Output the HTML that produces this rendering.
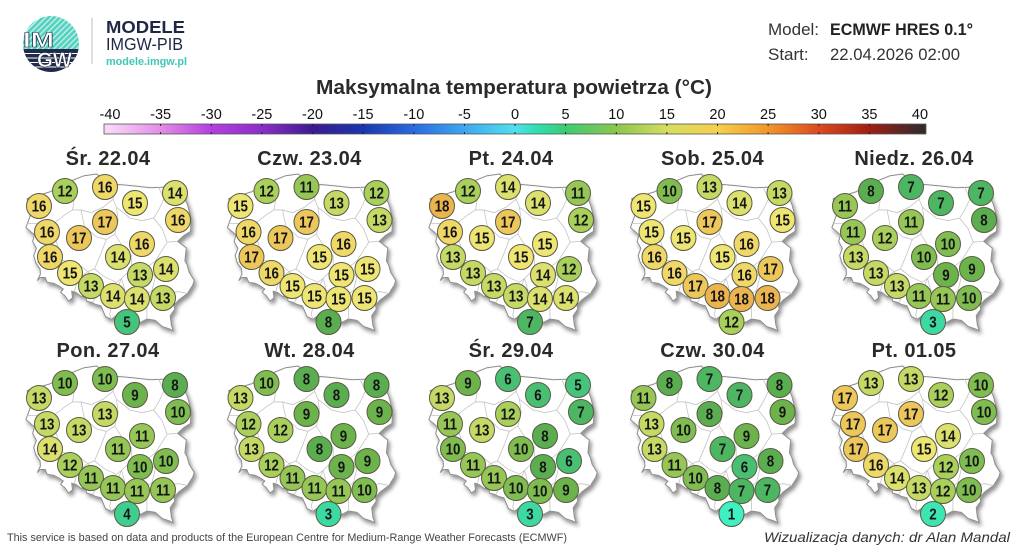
<!DOCTYPE html>
<html><head><meta charset="utf-8">
<style>
html,body{margin:0;padding:0;background:#fff}
body{width:1024px;height:549px;overflow:hidden}
svg{display:block}
svg text{font-family:"Liberation Sans",sans-serif}
.m text{font-weight:bold;font-size:15.5px;text-anchor:middle;fill:#161616;transform-box:fill-box;transform-origin:center;transform:scaleX(.86)}
.m circle{stroke:#5a5a44;stroke-width:1}
.m text.t{font-size:20px;fill:#2a2a2a;transform:none;letter-spacing:.4px}
.k1{fill:#3ff0c2}.k2{fill:#3ce6b2}.k3{fill:#3cdaa2}.k4{fill:#40ce90}.k5{fill:#44c47c}.k6{fill:#48bf72}.k7{fill:#4db662}.k8{fill:#5aae50}.k9{fill:#6cb34c}.k10{fill:#7fbd50}.k11{fill:#96c656}.k12{fill:#aad05c}.k13{fill:#c5da65}.k14{fill:#dce06c}.k15{fill:#eee572}.k16{fill:#efd868}.k17{fill:#eec75a}.k18{fill:#ecb44e}
.tk{font-size:14.5px;text-anchor:middle;fill:#111}
</style></head><body>
<svg width="1024" height="549" viewBox="0 0 1024 549" xmlns="http://www.w3.org/2000/svg">
<defs>
<linearGradient id="cb" gradientUnits="userSpaceOnUse" x1="110" y1="0" x2="920" y2="0">
<stop offset="0" stop-color="#f7d6f7"/><stop offset="0.0625" stop-color="#e38de6"/><stop offset="0.125" stop-color="#b43ee0"/><stop offset="0.1875" stop-color="#8a2fc8"/><stop offset="0.25" stop-color="#3c1b8e"/><stop offset="0.3125" stop-color="#1a36ae"/><stop offset="0.375" stop-color="#2a6ae0"/><stop offset="0.4375" stop-color="#3fa8ef"/><stop offset="0.5" stop-color="#4fe0ee"/><stop offset="0.525" stop-color="#2fe0b2"/><stop offset="0.5625" stop-color="#3ccb74"/><stop offset="0.625" stop-color="#8cc64e"/><stop offset="0.6875" stop-color="#d6de5e"/><stop offset="0.75" stop-color="#f6cf4e"/><stop offset="0.8125" stop-color="#f29628"/><stop offset="0.875" stop-color="#dc4a1e"/><stop offset="0.9375" stop-color="#a01f12"/><stop offset="1" stop-color="#352a2a"/>
</linearGradient>
<pattern id="dg" width="4" height="4" patternUnits="userSpaceOnUse" patternTransform="rotate(45)"><rect width="4" height="4" fill="#55d1c0"/><rect width="1.3" height="4" fill="#c9f1ea"/></pattern>
<clipPath id="lc"><circle cx="51" cy="44" r="28"/></clipPath>
<filter id="sh" x="-15%" y="-15%" width="135%" height="135%">
<feGaussianBlur in="SourceAlpha" stdDeviation="2.2"/><feOffset dx="2" dy="3"/><feComponentTransfer><feFuncA type="linear" slope="0.45"/></feComponentTransfer><feMerge><feMergeNode/><feMergeNode in="SourceGraphic"/></feMerge>
</filter>
<g id="pl"><g transform="matrix(16.9 0 0 -26.8 -213.07 1643.76)">
<polygon fill="#fff" stroke="#8c8c8c" stroke-width="1" vector-effect="non-scaling-stroke" stroke-linejoin="round" points="14.22,53.93 14.77,54.02 15.58,54.18 16.40,54.45 16.85,54.59 17.55,54.77 18.33,54.84 18.40,54.80 18.80,54.61 18.78,54.59 18.46,54.74 18.47,54.70 18.55,54.52 18.65,54.40 18.95,54.35 19.30,54.38 19.63,54.45 20.50,54.40 21.50,54.33 22.79,54.36 23.10,54.30 23.48,54.15 23.52,53.95 23.70,53.70 23.92,53.17 23.88,52.70 23.50,52.55 23.12,52.33 23.63,52.08 23.55,51.60 23.68,51.45 23.80,51.17 24.10,50.87 24.02,50.70 23.70,50.38 23.20,50.15 22.90,49.95 22.95,49.80 22.68,49.55 22.75,49.20 22.86,49.00 22.56,49.08 22.20,49.15 21.80,49.38 21.30,49.43 20.90,49.30 20.60,49.38 20.35,49.40 20.08,49.18 19.88,49.20 19.78,49.37 19.53,49.57 19.20,49.42 18.85,49.52 18.58,49.92 18.25,49.98 18.03,50.05 17.72,50.10 17.70,50.32 17.42,50.27 17.10,50.42 16.85,50.47 16.90,50.22 16.66,50.10 16.45,50.30 16.20,50.42 16.35,50.55 16.10,50.66 15.80,50.76 15.40,50.80 15.28,50.98 15.00,50.98 14.82,50.87 15.00,51.10 14.98,51.30 14.73,51.52 14.60,51.80 14.76,52.07 14.54,52.32 14.65,52.57 14.14,52.84 14.42,53.32 14.28,53.70"/>
<path fill="none" stroke="#c4c4c4" stroke-width="0.8" vector-effect="non-scaling-stroke" d="M16.70,54.55L17.00,53.90L16.90,53.50M14.23,53.00L15.00,53.00L15.90,53.05L16.40,53.30L16.90,53.50L17.40,53.50L18.00,53.40L18.70,53.60L19.30,53.90L19.45,54.40M22.00,54.35L22.30,53.90L22.00,53.50L21.70,53.20M19.30,53.90L19.50,53.60L20.30,53.20L21.00,53.10L21.70,53.20M17.40,53.50L17.60,52.90L18.30,52.50L18.90,52.40L19.40,52.60L19.60,53.10L19.50,53.60M15.90,53.05L15.80,52.60L16.00,52.20L16.20,51.80L16.10,51.65M14.75,51.55L15.40,51.50L15.90,51.60L16.10,51.65L16.80,51.55L17.30,51.45L17.80,51.20M18.90,52.40L18.60,51.90L18.20,51.30L17.80,51.20M17.80,51.20L17.20,50.90L17.00,50.45M17.80,51.20L18.30,50.90L18.40,50.40L18.10,50.05M18.20,51.30L18.80,51.00L19.50,50.80L19.80,50.95M19.40,52.60L19.90,52.10L20.40,51.80L20.40,51.30L19.80,50.95M19.80,50.95L19.50,50.50L19.30,50.10L19.10,49.60L19.20,49.42M19.80,50.95L20.00,50.50L20.80,50.30L21.20,50.30L21.60,50.50L21.80,51.00L21.30,51.35L20.40,51.30M21.30,51.35L21.80,51.60L22.20,52.00L22.50,52.30L23.12,52.33M21.70,53.20L22.20,52.80L22.50,52.30M21.60,50.50L22.20,50.60L22.60,50.40L23.20,50.45L23.70,50.38M21.20,50.30L21.30,49.90L21.30,49.43"/>
</g></g>
</defs>

<!-- Logo -->
<g clip-path="url(#lc)">
<rect x="20" y="14" width="62" height="35" fill="url(#dg)"/>
<rect x="20" y="49" width="62" height="26" fill="#1f2b48"/>
<path d="M20 53.5H82M20 58H82M20 62.5H82M20 67H82" stroke="#fff" stroke-width="1.1"/>
</g>
<text x="23" y="47" font-weight="bold" font-size="21" fill="#fff" stroke="#1f2b48" stroke-width="0.6" textLength="31" lengthAdjust="spacingAndGlyphs">IM</text>
<text x="37" y="67" font-weight="bold" font-size="21" fill="#fff" stroke="#1f2b48" stroke-width="0.6" textLength="35" lengthAdjust="spacingAndGlyphs">GW</text>
<line x1="92" y1="18" x2="92" y2="64" stroke="#bdbdbd" stroke-width="1"/>
<text x="106" y="33" font-weight="bold" font-size="17.5" fill="#1d2845" textLength="79" lengthAdjust="spacingAndGlyphs">MODELE</text>
<text x="106" y="50" font-size="17.5" fill="#1d2845" textLength="77" lengthAdjust="spacingAndGlyphs">IMGW-PIB</text>
<text x="106" y="65" font-weight="bold" font-size="11" fill="#3fc7b5" textLength="81" lengthAdjust="spacingAndGlyphs">modele.imgw.pl</text>

<!-- Model info -->
<text x="768" y="35" font-size="17" fill="#333">Model:</text>
<text x="830" y="35" font-size="16.5" font-weight="bold" fill="#222" textLength="143" lengthAdjust="spacingAndGlyphs">ECMWF HRES 0.1°</text>
<text x="768" y="60" font-size="17" fill="#333">Start:</text>
<text x="830" y="60" font-size="17" fill="#333" textLength="130" lengthAdjust="spacingAndGlyphs">22.04.2026 02:00</text>

<!-- Title & colorbar -->
<text x="316" y="94" font-size="20" font-weight="bold" fill="#2b2b2b" textLength="396" lengthAdjust="spacingAndGlyphs">Maksymalna temperatura powietrza (°C)</text>
<g class="tk">
<text x="110" y="119">-40</text><text x="160.6" y="119">-35</text><text x="211.3" y="119">-30</text><text x="261.9" y="119">-25</text><text x="312.5" y="119">-20</text><text x="363.1" y="119">-15</text><text x="413.8" y="119">-10</text><text x="464.4" y="119">-5</text><text x="515" y="119">0</text><text x="565.6" y="119">5</text><text x="616.3" y="119">10</text><text x="666.9" y="119">15</text><text x="717.5" y="119">20</text><text x="768.1" y="119">25</text><text x="818.8" y="119">30</text><text x="869.4" y="119">35</text><text x="920" y="119">40</text>
</g>
<rect x="104" y="124" width="822" height="10" fill="url(#cb)" stroke="#555" stroke-width="0.8"/>
<path stroke="#222" stroke-width="1" d="M160.6 124v2M211.3 124v2M261.9 124v2M312.5 124v2M363.1 124v2M413.8 124v2M464.4 124v2M515 124v2M565.6 124v2M616.3 124v2M666.9 124v2M717.5 124v2M768.1 124v2M818.8 124v2M869.4 124v2M160.6 132v2M211.3 132v2M261.9 132v2M312.5 132v2M363.1 132v2M413.8 132v2M464.4 132v2M515 132v2M565.6 132v2M616.3 132v2M666.9 132v2M717.5 132v2M768.1 132v2M818.8 132v2M869.4 132v2"/>

<!-- Map 1 -->
<g class="m" transform="translate(0,0)">
<text class="t" x="108" y="165">Śr. 22.04</text>
<use href="#pl" filter="url(#sh)"/>
<g transform="translate(65,191)"><circle class="k12" r="12.5"/><text y="5.5">12</text></g>
<g transform="translate(105,187)"><circle class="k16" r="12.5"/><text y="5.5">16</text></g>
<g transform="translate(175,193)"><circle class="k14" r="12.5"/><text y="5.5">14</text></g>
<g transform="translate(39,206)"><circle class="k16" r="12.5"/><text y="5.5">16</text></g>
<g transform="translate(135,203)"><circle class="k15" r="12.5"/><text y="5.5">15</text></g>
<g transform="translate(178,220)"><circle class="k16" r="12.5"/><text y="5.5">16</text></g>
<g transform="translate(105,222)"><circle class="k17" r="12.5"/><text y="5.5">17</text></g>
<g transform="translate(47,232)"><circle class="k16" r="12.5"/><text y="5.5">16</text></g>
<g transform="translate(79,238)"><circle class="k17" r="12.5"/><text y="5.5">17</text></g>
<g transform="translate(142,244)"><circle class="k16" r="12.5"/><text y="5.5">16</text></g>
<g transform="translate(50,257)"><circle class="k16" r="12.5"/><text y="5.5">16</text></g>
<g transform="translate(118,257)"><circle class="k14" r="12.5"/><text y="5.5">14</text></g>
<g transform="translate(70,273)"><circle class="k15" r="12.5"/><text y="5.5">15</text></g>
<g transform="translate(140,275)"><circle class="k13" r="12.5"/><text y="5.5">13</text></g>
<g transform="translate(166,269)"><circle class="k14" r="12.5"/><text y="5.5">14</text></g>
<g transform="translate(91,286)"><circle class="k13" r="12.5"/><text y="5.5">13</text></g>
<g transform="translate(113,296)"><circle class="k14" r="12.5"/><text y="5.5">14</text></g>
<g transform="translate(137,299)"><circle class="k14" r="12.5"/><text y="5.5">14</text></g>
<g transform="translate(163,298)"><circle class="k13" r="12.5"/><text y="5.5">13</text></g>
<g transform="translate(127,322)"><circle class="k5" r="12.5"/><text y="5.5">5</text></g>
</g>

<!-- Map 2 -->
<g class="m" transform="translate(201.5,0)">
<text class="t" x="108" y="165">Czw. 23.04</text>
<use href="#pl" filter="url(#sh)"/>
<g transform="translate(65,191)"><circle class="k12" r="12.5"/><text y="5.5">12</text></g>
<g transform="translate(105,187)"><circle class="k11" r="12.5"/><text y="5.5">11</text></g>
<g transform="translate(175,193)"><circle class="k12" r="12.5"/><text y="5.5">12</text></g>
<g transform="translate(39,206)"><circle class="k15" r="12.5"/><text y="5.5">15</text></g>
<g transform="translate(135,203)"><circle class="k13" r="12.5"/><text y="5.5">13</text></g>
<g transform="translate(178,220)"><circle class="k13" r="12.5"/><text y="5.5">13</text></g>
<g transform="translate(105,222)"><circle class="k17" r="12.5"/><text y="5.5">17</text></g>
<g transform="translate(47,232)"><circle class="k16" r="12.5"/><text y="5.5">16</text></g>
<g transform="translate(79,238)"><circle class="k17" r="12.5"/><text y="5.5">17</text></g>
<g transform="translate(142,244)"><circle class="k16" r="12.5"/><text y="5.5">16</text></g>
<g transform="translate(50,257)"><circle class="k17" r="12.5"/><text y="5.5">17</text></g>
<g transform="translate(118,257)"><circle class="k15" r="12.5"/><text y="5.5">15</text></g>
<g transform="translate(70,273)"><circle class="k16" r="12.5"/><text y="5.5">16</text></g>
<g transform="translate(140,275)"><circle class="k15" r="12.5"/><text y="5.5">15</text></g>
<g transform="translate(166,269)"><circle class="k15" r="12.5"/><text y="5.5">15</text></g>
<g transform="translate(91,286)"><circle class="k15" r="12.5"/><text y="5.5">15</text></g>
<g transform="translate(113,296)"><circle class="k15" r="12.5"/><text y="5.5">15</text></g>
<g transform="translate(137,299)"><circle class="k15" r="12.5"/><text y="5.5">15</text></g>
<g transform="translate(163,298)"><circle class="k15" r="12.5"/><text y="5.5">15</text></g>
<g transform="translate(127,322)"><circle class="k8" r="12.5"/><text y="5.5">8</text></g>
</g>

<!-- Map 3 -->
<g class="m" transform="translate(403,0)">
<text class="t" x="108" y="165">Pt. 24.04</text>
<use href="#pl" filter="url(#sh)"/>
<g transform="translate(65,191)"><circle class="k12" r="12.5"/><text y="5.5">12</text></g>
<g transform="translate(105,187)"><circle class="k14" r="12.5"/><text y="5.5">14</text></g>
<g transform="translate(175,193)"><circle class="k11" r="12.5"/><text y="5.5">11</text></g>
<g transform="translate(39,206)"><circle class="k18" r="12.5"/><text y="5.5">18</text></g>
<g transform="translate(135,203)"><circle class="k14" r="12.5"/><text y="5.5">14</text></g>
<g transform="translate(178,220)"><circle class="k12" r="12.5"/><text y="5.5">12</text></g>
<g transform="translate(105,222)"><circle class="k17" r="12.5"/><text y="5.5">17</text></g>
<g transform="translate(47,232)"><circle class="k16" r="12.5"/><text y="5.5">16</text></g>
<g transform="translate(79,238)"><circle class="k15" r="12.5"/><text y="5.5">15</text></g>
<g transform="translate(142,244)"><circle class="k15" r="12.5"/><text y="5.5">15</text></g>
<g transform="translate(50,257)"><circle class="k13" r="12.5"/><text y="5.5">13</text></g>
<g transform="translate(118,257)"><circle class="k15" r="12.5"/><text y="5.5">15</text></g>
<g transform="translate(70,273)"><circle class="k13" r="12.5"/><text y="5.5">13</text></g>
<g transform="translate(140,275)"><circle class="k14" r="12.5"/><text y="5.5">14</text></g>
<g transform="translate(166,269)"><circle class="k12" r="12.5"/><text y="5.5">12</text></g>
<g transform="translate(91,286)"><circle class="k13" r="12.5"/><text y="5.5">13</text></g>
<g transform="translate(113,296)"><circle class="k13" r="12.5"/><text y="5.5">13</text></g>
<g transform="translate(137,299)"><circle class="k14" r="12.5"/><text y="5.5">14</text></g>
<g transform="translate(163,298)"><circle class="k14" r="12.5"/><text y="5.5">14</text></g>
<g transform="translate(127,322)"><circle class="k7" r="12.5"/><text y="5.5">7</text></g>
</g>

<!-- Map 4 -->
<g class="m" transform="translate(604.5,0)">
<text class="t" x="108" y="165">Sob. 25.04</text>
<use href="#pl" filter="url(#sh)"/>
<g transform="translate(65,191)"><circle class="k10" r="12.5"/><text y="5.5">10</text></g>
<g transform="translate(105,187)"><circle class="k13" r="12.5"/><text y="5.5">13</text></g>
<g transform="translate(175,193)"><circle class="k13" r="12.5"/><text y="5.5">13</text></g>
<g transform="translate(39,206)"><circle class="k15" r="12.5"/><text y="5.5">15</text></g>
<g transform="translate(135,203)"><circle class="k14" r="12.5"/><text y="5.5">14</text></g>
<g transform="translate(178,220)"><circle class="k15" r="12.5"/><text y="5.5">15</text></g>
<g transform="translate(105,222)"><circle class="k17" r="12.5"/><text y="5.5">17</text></g>
<g transform="translate(47,232)"><circle class="k15" r="12.5"/><text y="5.5">15</text></g>
<g transform="translate(79,238)"><circle class="k15" r="12.5"/><text y="5.5">15</text></g>
<g transform="translate(142,244)"><circle class="k16" r="12.5"/><text y="5.5">16</text></g>
<g transform="translate(50,257)"><circle class="k16" r="12.5"/><text y="5.5">16</text></g>
<g transform="translate(118,257)"><circle class="k15" r="12.5"/><text y="5.5">15</text></g>
<g transform="translate(70,273)"><circle class="k16" r="12.5"/><text y="5.5">16</text></g>
<g transform="translate(140,275)"><circle class="k16" r="12.5"/><text y="5.5">16</text></g>
<g transform="translate(166,269)"><circle class="k17" r="12.5"/><text y="5.5">17</text></g>
<g transform="translate(91,286)"><circle class="k17" r="12.5"/><text y="5.5">17</text></g>
<g transform="translate(113,296)"><circle class="k18" r="12.5"/><text y="5.5">18</text></g>
<g transform="translate(163,298)"><circle class="k18" r="12.5"/><text y="5.5">18</text></g>
<g transform="translate(137,299)"><circle class="k18" r="12.5"/><text y="5.5">18</text></g>
<g transform="translate(127,322)"><circle class="k12" r="12.5"/><text y="5.5">12</text></g>
</g>

<!-- Map 5 -->
<g class="m" transform="translate(806,0)">
<text class="t" x="108" y="165">Niedz. 26.04</text>
<use href="#pl" filter="url(#sh)"/>
<g transform="translate(65,191)"><circle class="k8" r="12.5"/><text y="5.5">8</text></g>
<g transform="translate(105,187)"><circle class="k7" r="12.5"/><text y="5.5">7</text></g>
<g transform="translate(175,193)"><circle class="k7" r="12.5"/><text y="5.5">7</text></g>
<g transform="translate(39,206)"><circle class="k11" r="12.5"/><text y="5.5">11</text></g>
<g transform="translate(135,203)"><circle class="k7" r="12.5"/><text y="5.5">7</text></g>
<g transform="translate(178,220)"><circle class="k8" r="12.5"/><text y="5.5">8</text></g>
<g transform="translate(105,222)"><circle class="k11" r="12.5"/><text y="5.5">11</text></g>
<g transform="translate(47,232)"><circle class="k11" r="12.5"/><text y="5.5">11</text></g>
<g transform="translate(79,238)"><circle class="k12" r="12.5"/><text y="5.5">12</text></g>
<g transform="translate(142,244)"><circle class="k10" r="12.5"/><text y="5.5">10</text></g>
<g transform="translate(50,257)"><circle class="k13" r="12.5"/><text y="5.5">13</text></g>
<g transform="translate(118,257)"><circle class="k10" r="12.5"/><text y="5.5">10</text></g>
<g transform="translate(70,273)"><circle class="k13" r="12.5"/><text y="5.5">13</text></g>
<g transform="translate(140,275)"><circle class="k9" r="12.5"/><text y="5.5">9</text></g>
<g transform="translate(166,269)"><circle class="k9" r="12.5"/><text y="5.5">9</text></g>
<g transform="translate(91,286)"><circle class="k13" r="12.5"/><text y="5.5">13</text></g>
<g transform="translate(113,296)"><circle class="k11" r="12.5"/><text y="5.5">11</text></g>
<g transform="translate(137,299)"><circle class="k11" r="12.5"/><text y="5.5">11</text></g>
<g transform="translate(163,298)"><circle class="k10" r="12.5"/><text y="5.5">10</text></g>
<g transform="translate(127,322)"><circle class="k3" r="12.5"/><text y="5.5">3</text></g>
</g>

<!-- Map 6 -->
<g class="m" transform="translate(0,192)">
<text class="t" x="108" y="165">Pon. 27.04</text>
<use href="#pl" filter="url(#sh)"/>
<g transform="translate(65,191)"><circle class="k10" r="12.5"/><text y="5.5">10</text></g>
<g transform="translate(105,187)"><circle class="k10" r="12.5"/><text y="5.5">10</text></g>
<g transform="translate(175,193)"><circle class="k8" r="12.5"/><text y="5.5">8</text></g>
<g transform="translate(39,206)"><circle class="k13" r="12.5"/><text y="5.5">13</text></g>
<g transform="translate(135,203)"><circle class="k9" r="12.5"/><text y="5.5">9</text></g>
<g transform="translate(178,220)"><circle class="k10" r="12.5"/><text y="5.5">10</text></g>
<g transform="translate(105,222)"><circle class="k13" r="12.5"/><text y="5.5">13</text></g>
<g transform="translate(47,232)"><circle class="k13" r="12.5"/><text y="5.5">13</text></g>
<g transform="translate(79,238)"><circle class="k13" r="12.5"/><text y="5.5">13</text></g>
<g transform="translate(142,244)"><circle class="k11" r="12.5"/><text y="5.5">11</text></g>
<g transform="translate(50,257)"><circle class="k14" r="12.5"/><text y="5.5">14</text></g>
<g transform="translate(118,257)"><circle class="k11" r="12.5"/><text y="5.5">11</text></g>
<g transform="translate(70,273)"><circle class="k12" r="12.5"/><text y="5.5">12</text></g>
<g transform="translate(140,275)"><circle class="k10" r="12.5"/><text y="5.5">10</text></g>
<g transform="translate(166,269)"><circle class="k10" r="12.5"/><text y="5.5">10</text></g>
<g transform="translate(91,286)"><circle class="k11" r="12.5"/><text y="5.5">11</text></g>
<g transform="translate(113,296)"><circle class="k11" r="12.5"/><text y="5.5">11</text></g>
<g transform="translate(137,299)"><circle class="k11" r="12.5"/><text y="5.5">11</text></g>
<g transform="translate(163,298)"><circle class="k11" r="12.5"/><text y="5.5">11</text></g>
<g transform="translate(127,322)"><circle class="k4" r="12.5"/><text y="5.5">4</text></g>
</g>

<!-- Map 7 -->
<g class="m" transform="translate(201.5,192)">
<text class="t" x="108" y="165">Wt. 28.04</text>
<use href="#pl" filter="url(#sh)"/>
<g transform="translate(65,191)"><circle class="k10" r="12.5"/><text y="5.5">10</text></g>
<g transform="translate(105,187)"><circle class="k8" r="12.5"/><text y="5.5">8</text></g>
<g transform="translate(175,193)"><circle class="k8" r="12.5"/><text y="5.5">8</text></g>
<g transform="translate(39,206)"><circle class="k13" r="12.5"/><text y="5.5">13</text></g>
<g transform="translate(135,203)"><circle class="k8" r="12.5"/><text y="5.5">8</text></g>
<g transform="translate(178,220)"><circle class="k9" r="12.5"/><text y="5.5">9</text></g>
<g transform="translate(105,222)"><circle class="k9" r="12.5"/><text y="5.5">9</text></g>
<g transform="translate(47,232)"><circle class="k12" r="12.5"/><text y="5.5">12</text></g>
<g transform="translate(79,238)"><circle class="k12" r="12.5"/><text y="5.5">12</text></g>
<g transform="translate(142,244)"><circle class="k9" r="12.5"/><text y="5.5">9</text></g>
<g transform="translate(50,257)"><circle class="k13" r="12.5"/><text y="5.5">13</text></g>
<g transform="translate(118,257)"><circle class="k8" r="12.5"/><text y="5.5">8</text></g>
<g transform="translate(70,273)"><circle class="k12" r="12.5"/><text y="5.5">12</text></g>
<g transform="translate(140,275)"><circle class="k9" r="12.5"/><text y="5.5">9</text></g>
<g transform="translate(166,269)"><circle class="k9" r="12.5"/><text y="5.5">9</text></g>
<g transform="translate(91,286)"><circle class="k11" r="12.5"/><text y="5.5">11</text></g>
<g transform="translate(113,296)"><circle class="k11" r="12.5"/><text y="5.5">11</text></g>
<g transform="translate(137,299)"><circle class="k11" r="12.5"/><text y="5.5">11</text></g>
<g transform="translate(163,298)"><circle class="k10" r="12.5"/><text y="5.5">10</text></g>
<g transform="translate(127,322)"><circle class="k3" r="12.5"/><text y="5.5">3</text></g>
</g>

<!-- Map 8 -->
<g class="m" transform="translate(403,192)">
<text class="t" x="108" y="165">Śr. 29.04</text>
<use href="#pl" filter="url(#sh)"/>
<g transform="translate(65,191)"><circle class="k9" r="12.5"/><text y="5.5">9</text></g>
<g transform="translate(105,187)"><circle class="k6" r="12.5"/><text y="5.5">6</text></g>
<g transform="translate(175,193)"><circle class="k5" r="12.5"/><text y="5.5">5</text></g>
<g transform="translate(39,206)"><circle class="k13" r="12.5"/><text y="5.5">13</text></g>
<g transform="translate(135,203)"><circle class="k6" r="12.5"/><text y="5.5">6</text></g>
<g transform="translate(178,220)"><circle class="k7" r="12.5"/><text y="5.5">7</text></g>
<g transform="translate(105,222)"><circle class="k12" r="12.5"/><text y="5.5">12</text></g>
<g transform="translate(47,232)"><circle class="k11" r="12.5"/><text y="5.5">11</text></g>
<g transform="translate(79,238)"><circle class="k13" r="12.5"/><text y="5.5">13</text></g>
<g transform="translate(142,244)"><circle class="k8" r="12.5"/><text y="5.5">8</text></g>
<g transform="translate(50,257)"><circle class="k10" r="12.5"/><text y="5.5">10</text></g>
<g transform="translate(118,257)"><circle class="k10" r="12.5"/><text y="5.5">10</text></g>
<g transform="translate(70,273)"><circle class="k11" r="12.5"/><text y="5.5">11</text></g>
<g transform="translate(140,275)"><circle class="k8" r="12.5"/><text y="5.5">8</text></g>
<g transform="translate(166,269)"><circle class="k6" r="12.5"/><text y="5.5">6</text></g>
<g transform="translate(91,286)"><circle class="k11" r="12.5"/><text y="5.5">11</text></g>
<g transform="translate(113,296)"><circle class="k10" r="12.5"/><text y="5.5">10</text></g>
<g transform="translate(137,299)"><circle class="k10" r="12.5"/><text y="5.5">10</text></g>
<g transform="translate(163,298)"><circle class="k9" r="12.5"/><text y="5.5">9</text></g>
<g transform="translate(127,322)"><circle class="k3" r="12.5"/><text y="5.5">3</text></g>
</g>

<!-- Map 9 -->
<g class="m" transform="translate(604.5,192)">
<text class="t" x="108" y="165">Czw. 30.04</text>
<use href="#pl" filter="url(#sh)"/>
<g transform="translate(65,191)"><circle class="k8" r="12.5"/><text y="5.5">8</text></g>
<g transform="translate(105,187)"><circle class="k7" r="12.5"/><text y="5.5">7</text></g>
<g transform="translate(175,193)"><circle class="k8" r="12.5"/><text y="5.5">8</text></g>
<g transform="translate(39,206)"><circle class="k11" r="12.5"/><text y="5.5">11</text></g>
<g transform="translate(135,203)"><circle class="k7" r="12.5"/><text y="5.5">7</text></g>
<g transform="translate(178,220)"><circle class="k9" r="12.5"/><text y="5.5">9</text></g>
<g transform="translate(105,222)"><circle class="k8" r="12.5"/><text y="5.5">8</text></g>
<g transform="translate(47,232)"><circle class="k13" r="12.5"/><text y="5.5">13</text></g>
<g transform="translate(79,238)"><circle class="k10" r="12.5"/><text y="5.5">10</text></g>
<g transform="translate(142,244)"><circle class="k9" r="12.5"/><text y="5.5">9</text></g>
<g transform="translate(50,257)"><circle class="k13" r="12.5"/><text y="5.5">13</text></g>
<g transform="translate(118,257)"><circle class="k7" r="12.5"/><text y="5.5">7</text></g>
<g transform="translate(70,273)"><circle class="k11" r="12.5"/><text y="5.5">11</text></g>
<g transform="translate(140,275)"><circle class="k6" r="12.5"/><text y="5.5">6</text></g>
<g transform="translate(166,269)"><circle class="k8" r="12.5"/><text y="5.5">8</text></g>
<g transform="translate(91,286)"><circle class="k10" r="12.5"/><text y="5.5">10</text></g>
<g transform="translate(113,296)"><circle class="k8" r="12.5"/><text y="5.5">8</text></g>
<g transform="translate(137,299)"><circle class="k7" r="12.5"/><text y="5.5">7</text></g>
<g transform="translate(163,298)"><circle class="k7" r="12.5"/><text y="5.5">7</text></g>
<g transform="translate(127,322)"><circle class="k1" r="12.5"/><text y="5.5">1</text></g>
</g>

<!-- Map 10 -->
<g class="m" transform="translate(806,192)">
<text class="t" x="108" y="165">Pt. 01.05</text>
<use href="#pl" filter="url(#sh)"/>
<g transform="translate(65,191)"><circle class="k13" r="12.5"/><text y="5.5">13</text></g>
<g transform="translate(105,187)"><circle class="k13" r="12.5"/><text y="5.5">13</text></g>
<g transform="translate(175,193)"><circle class="k10" r="12.5"/><text y="5.5">10</text></g>
<g transform="translate(39,206)"><circle class="k17" r="12.5"/><text y="5.5">17</text></g>
<g transform="translate(135,203)"><circle class="k12" r="12.5"/><text y="5.5">12</text></g>
<g transform="translate(178,220)"><circle class="k10" r="12.5"/><text y="5.5">10</text></g>
<g transform="translate(105,222)"><circle class="k17" r="12.5"/><text y="5.5">17</text></g>
<g transform="translate(47,232)"><circle class="k17" r="12.5"/><text y="5.5">17</text></g>
<g transform="translate(79,238)"><circle class="k17" r="12.5"/><text y="5.5">17</text></g>
<g transform="translate(142,244)"><circle class="k14" r="12.5"/><text y="5.5">14</text></g>
<g transform="translate(50,257)"><circle class="k17" r="12.5"/><text y="5.5">17</text></g>
<g transform="translate(118,257)"><circle class="k15" r="12.5"/><text y="5.5">15</text></g>
<g transform="translate(70,273)"><circle class="k16" r="12.5"/><text y="5.5">16</text></g>
<g transform="translate(140,275)"><circle class="k12" r="12.5"/><text y="5.5">12</text></g>
<g transform="translate(166,269)"><circle class="k10" r="12.5"/><text y="5.5">10</text></g>
<g transform="translate(91,286)"><circle class="k14" r="12.5"/><text y="5.5">14</text></g>
<g transform="translate(113,296)"><circle class="k13" r="12.5"/><text y="5.5">13</text></g>
<g transform="translate(137,299)"><circle class="k12" r="12.5"/><text y="5.5">12</text></g>
<g transform="translate(163,298)"><circle class="k10" r="12.5"/><text y="5.5">10</text></g>
<g transform="translate(127,322)"><circle class="k2" r="12.5"/><text y="5.5">2</text></g>
</g>

<!-- Footer -->
<text x="7" y="541" font-size="11" fill="#444" textLength="560" lengthAdjust="spacingAndGlyphs">This service is based on data and products of the European Centre for Medium-Range Weather Forecasts (ECMWF)</text>
<text x="764" y="542" font-size="14" font-style="italic" fill="#333" textLength="246" lengthAdjust="spacingAndGlyphs">Wizualizacja danych: dr Alan Mandal</text>
</svg>
</body></html>
